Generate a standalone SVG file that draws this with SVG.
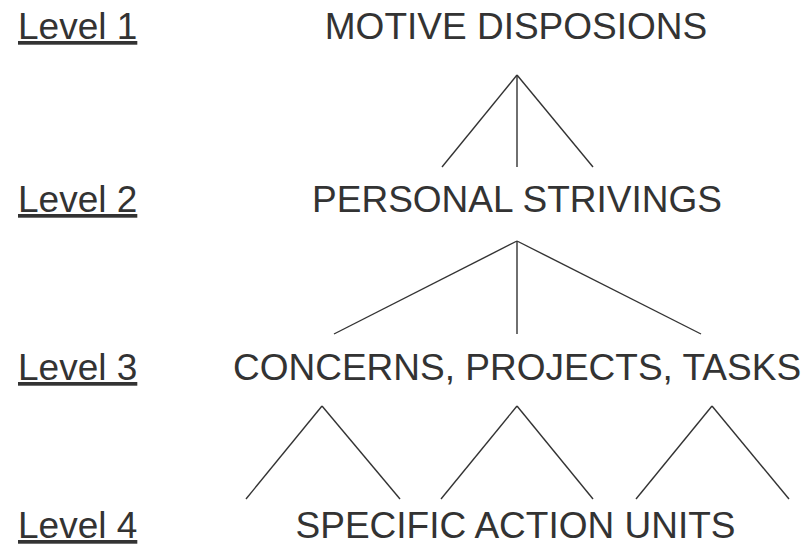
<svg xmlns="http://www.w3.org/2000/svg" width="807" height="547" viewBox="0 0 807 547">
<style>
text{font-family:"Liberation Sans",Arial,sans-serif;font-size:37px;fill:#333}
.lvl{text-decoration:underline}
.mid{text-anchor:middle}
#connectors line{stroke:#333;stroke-width:1.4;fill:none}
</style>
<rect width="807" height="547" fill="#fff"/>
<g id="labels">
<text class="lvl" x="18" y="39">Level 1</text>
<text class="lvl" x="18" y="212">Level 2</text>
<text class="lvl" x="18" y="380">Level 3</text>
<text class="lvl" x="18" y="538">Level 4</text>
</g>
<g id="n1"><text class="mid" x="516" y="39">MOTIVE DISPOSIONS</text></g>
<g id="n2"><text class="mid" x="517" y="212">PERSONAL STRIVINGS</text></g>
<g id="n3"><text class="mid" x="517" y="380">CONCERNS, PROJECTS, TASKS</text></g>
<g id="n4"><text class="mid" x="515.5" y="538">SPECIFIC ACTION UNITS</text></g>
<g id="connectors">
<line x1="517" y1="75" x2="442" y2="167"/>
<line x1="517" y1="75" x2="517" y2="167"/>
<line x1="517" y1="75" x2="593" y2="167"/>
<line x1="517" y1="241" x2="334" y2="334"/>
<line x1="517" y1="241" x2="517" y2="334"/>
<line x1="517" y1="241" x2="701" y2="334"/>
<line x1="322" y1="406" x2="246" y2="499"/>
<line x1="322" y1="406" x2="400" y2="499"/>
<line x1="517" y1="406" x2="441" y2="499"/>
<line x1="517" y1="406" x2="593" y2="499"/>
<line x1="712" y1="406" x2="636" y2="499"/>
<line x1="712" y1="406" x2="789" y2="499"/>
</g>
</svg>
